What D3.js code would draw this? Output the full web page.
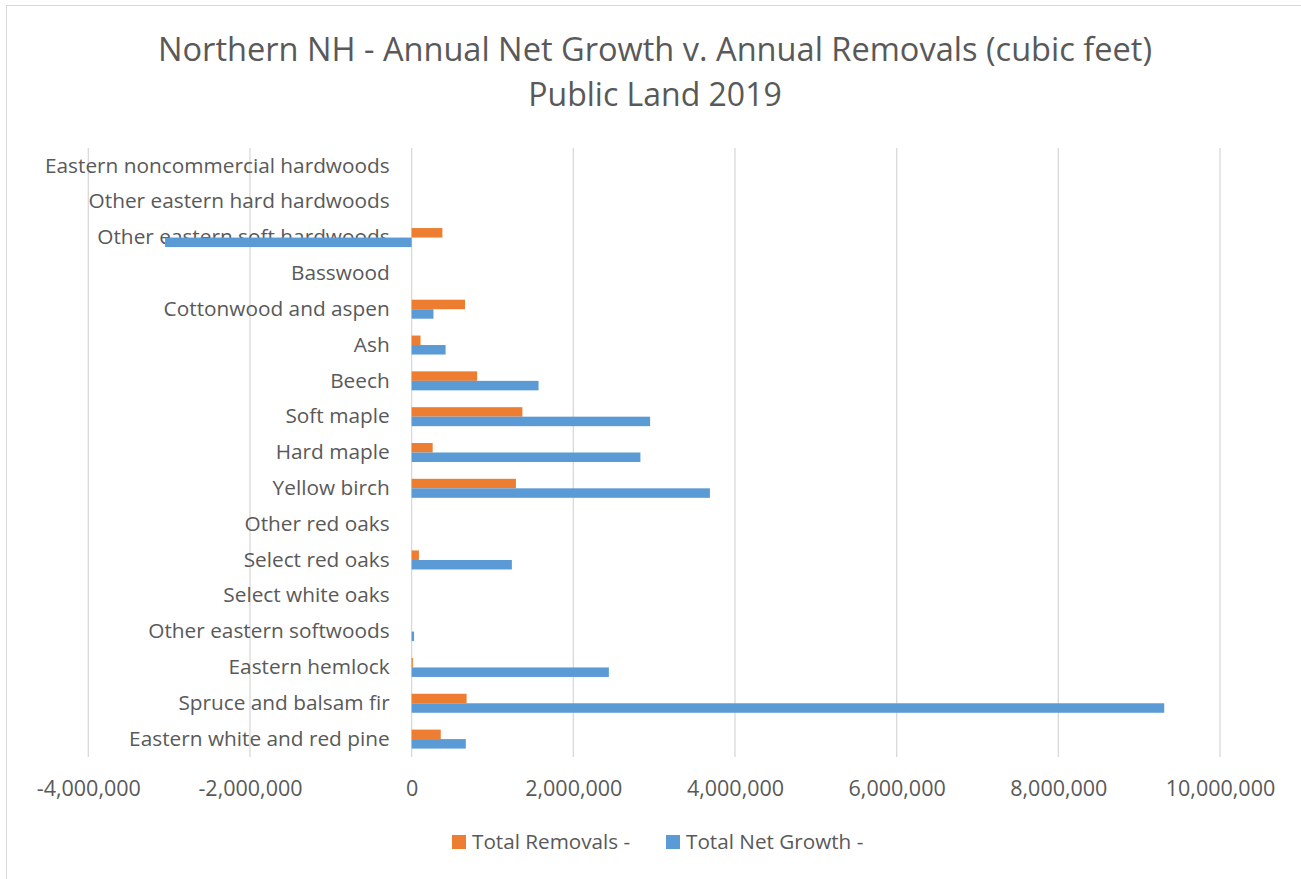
<!DOCTYPE html>
<html>
<head>
<meta charset="utf-8">
<script src="https://cdn.jsdelivr.net/npm/d3@7"></script>
<style>
  html, body { margin: 0; padding: 0; background: #fff; }
  svg { display: block; font-family: "Open Sans", "Noto Sans", sans-serif; }
</style>
</head>
<body>
<svg id="chart" width="1301" height="879"></svg>
<script>
// Species groups, listed bottom to top as they appear on the chart
const categories = [
  "Eastern white and red pine",
  "Spruce and balsam fir",
  "Eastern hemlock",
  "Other eastern softwoods",
  "Select white oaks",
  "Select red oaks",
  "Other red oaks",
  "Yellow birch",
  "Hard maple",
  "Soft maple",
  "Beech",
  "Ash",
  "Cottonwood and aspen",
  "Basswood",
  "Other eastern soft hardwoods",
  "Other eastern hard hardwoods",
  "Eastern noncommercial hardwoods"
];

// Annual removals (cubic feet)
const removals = [
  360000, 680000, 15000, 0, 0, 90000, 0, 1290000, 260000,
  1370000, 810000, 110000, 660000, 0, 380000, 0, 0
];

// Annual net growth (cubic feet)
const netGrowth = [
  670000, 9310000, 2440000, 30000, 0, 1240000, 0, 3690000, 2830000,
  2950000, 1570000, 420000, 270000, 0, -3050000, 0, 0
];

const xTicks = [-4000000, -2000000, 0, 2000000, 4000000, 6000000, 8000000, 10000000];

const seriesNames = ["Total Removals -", "Total Net Growth -"];
const seriesColors = ["#ED7D31", "#5B9BD5"];

const titleLines = [
  "Northern NH - Annual Net Growth v. Annual Removals (cubic feet)",
  "Public Land 2019"
];

const svg = d3.select("#chart");
const W = 1301, H = 879;
const plot = { left: 88.3, right: 1220, top: 148, bottom: 757 };
const textColor = "#595959";

// chart frame
svg.append("rect")
  .attr("x", 6.5).attr("y", 5.5)
  .attr("width", W).attr("height", H)
  .attr("fill", "#fff").attr("stroke", "#d9d9d9").attr("stroke-width", 1);

// title
const title = svg.append("g").selectAll("text")
  .data(titleLines)
  .join("text")
  .attr("x", 655)
  .attr("y", (d, i) => 61 + i * 45)
  .attr("text-anchor", "middle")
  .attr("font-size", 29)
  .attr("fill", textColor)
  .text(d => d);
// first title line spans the width of the header
title.filter((d, i) => i === 0)
  .attr("textLength", 994)
  .attr("lengthAdjust", "spacingAndGlyphs");
title.attr("font-size", 32);

const x = d3.scaleLinear()
  .domain([-4000000, 10000000])
  .range([plot.left, plot.right]);

// top category first in the band list so it sits at the top
const y = d3.scaleBand()
  .domain(categories.slice().reverse())
  .range([plot.top, plot.bottom])
  .paddingInner(0)
  .paddingOuter(0);

// vertical gridlines
svg.append("g").selectAll("line")
  .data(xTicks)
  .join("line")
  .attr("x1", d => x(d)).attr("x2", d => x(d))
  .attr("y1", plot.top).attr("y2", plot.bottom)
  .attr("stroke", "#d9d9d9").attr("stroke-width", 1.3);

// x axis tick labels
const fmt = d3.format(",");
const xAxis = d3.axisBottom(x)
  .tickValues(xTicks)
  .tickSize(0)
  .tickPadding(0)
  .tickFormat(d => fmt(d).replace("−", "-"));
const gx = svg.append("g")
  .attr("transform", `translate(0, ${plot.bottom + 24})`)
  .call(xAxis);
gx.select(".domain").remove();
gx.selectAll("text")
  .attr("font-size", 21.5)
  .attr("font-family", "'Open Sans', sans-serif")
  .attr("fill", textColor)
  .attr("dy", "0.71em");

// category labels
const yAxis = d3.axisLeft(y).tickSize(0).tickPadding(0);
const gy = svg.append("g")
  .attr("transform", `translate(${x(0) - 22}, 0)`)
  .call(yAxis);
gy.select(".domain").remove();
gy.selectAll("text")
  .attr("font-size", 20.8)
  .attr("font-family", "'Open Sans', sans-serif")
  .attr("fill", textColor);

// bars
const rows = categories.map((c, i) => ({ cat: c, vals: [removals[i], netGrowth[i]] }));
const groups = svg.append("g").selectAll("g")
  .data(rows)
  .join("g")
  .attr("transform", d => `translate(0, ${y(d.cat)})`);

groups.selectAll("rect")
  .data(d => d.vals.map((v, k) => ({ v, k })))
  .join("rect")
  .attr("x", d => x(Math.min(0, d.v)))
  .attr("width", d => Math.abs(x(d.v) - x(0)))
  .attr("y", d => y.bandwidth() / 2 - 9.5 + d.k * 9.5)
  .attr("height", 9.5)
  .attr("fill", d => seriesColors[d.k]);

// legend
const legendItems = [
  { name: seriesNames[0], color: seriesColors[0], x: 452 },
  { name: seriesNames[1], color: seriesColors[1], x: 666 }
];
const lg = svg.append("g").selectAll("g")
  .data(legendItems)
  .join("g")
  .attr("transform", d => `translate(${d.x}, 842)`);
lg.append("rect")
  .attr("x", 0).attr("y", -7)
  .attr("width", 14).attr("height", 14)
  .attr("fill", d => d.color);
lg.append("text")
  .attr("x", 20).attr("y", 0)
  .attr("dy", "0.35em")
  .attr("font-size", 20.7)
  .attr("fill", textColor)
  .text(d => d.name);
</script>
</body>
</html>
